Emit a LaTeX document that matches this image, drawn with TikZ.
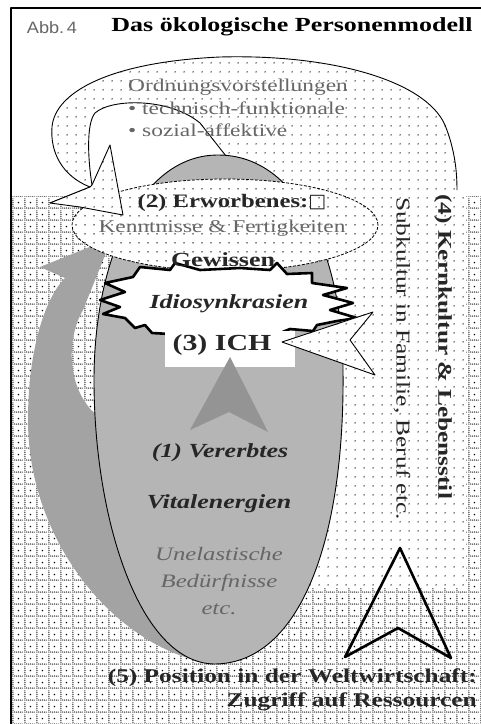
\documentclass[tikz,border=0pt]{standalone}
\usepackage{fontspec}
\setmainfont{Liberation Serif}[FakeStretch=1.3]
\newfontfamily\abbfont{Liberation Sans}[FakeStretch=1.1]
\newfontfamily\symfont{DejaVu Sans}
\usetikzlibrary{
    patterns,
    shapes.geometric,
    positioning,
}

% sparse dots of the (4) region
\pgfdeclarepatternformonly{sparseDots}{\pgfpointorigin}{\pgfpoint{9pt}{9pt}}{\pgfpoint{9pt}{9pt}}{
    \pgfpathcircle{\pgfpoint{4.5pt}{4.5pt}}{0.8pt}
    \pgfusepath{fill}
}
% dotted grid of the (5) region
\pgfdeclarepatternformonly{dotGrid}{\pgfpointorigin}{\pgfpoint{12pt}{12pt}}{\pgfpoint{12pt}{12pt}}{
    \pgfpathcircle{\pgfpoint{1pt}{1pt}}{0.7pt}
    \pgfpathcircle{\pgfpoint{3pt}{1pt}}{0.7pt}
    \pgfpathcircle{\pgfpoint{5pt}{1pt}}{0.7pt}
    \pgfpathcircle{\pgfpoint{7pt}{1pt}}{0.7pt}
    \pgfpathcircle{\pgfpoint{9pt}{1pt}}{0.7pt}
    \pgfpathcircle{\pgfpoint{11pt}{1pt}}{0.7pt}
    \pgfpathcircle{\pgfpoint{1pt}{3pt}}{0.7pt}
    \pgfpathcircle{\pgfpoint{1pt}{5pt}}{0.7pt}
    \pgfpathcircle{\pgfpoint{1pt}{7pt}}{0.7pt}
    \pgfpathcircle{\pgfpoint{1pt}{9pt}}{0.7pt}
    \pgfpathcircle{\pgfpoint{1pt}{11pt}}{0.7pt}
    \pgfpathcircle{\pgfpoint{7pt}{7pt}}{0.85pt}
    \pgfusepath{fill}
}

\begin{document}
\begin{tikzpicture}[x=1pt,y=-1pt,line join=round]

    \tikzstyle{dotRegion}=[fill=white, postaction={pattern=sparseDots}]
    \tikzstyle{gridRegion}=[fill=white, postaction={pattern=dotGrid}]
    \tikzstyle{thinEdge}=[draw=black, line width=0.9pt]
    \tikzstyle{heavyEdge}=[draw=black, line width=2.6pt]
    \tikzstyle{plainText}=[inner sep=0pt, text=black!85, font=\fontsize{18}{22}\selectfont]
    \tikzstyle{grayText}=[plainText, text=black!60]
    \tikzstyle{boldText}=[plainText, font=\bfseries\fontsize{20}{24}\selectfont]
    \tikzstyle{boldItalic}=[plainText, font=\bfseries\itshape\fontsize{20}{24}\selectfont]

    \useasboundingbox (0,0) rectangle (481,724);

    % Corner points
    \coordinate (loopJoin)  at (90,187);
    \coordinate (innerJoin) at (92,185);
    \coordinate (loopEnd)   at (457,190);
    \coordinate (starTop)   at (110,145);
    \coordinate (starLow)   at (123,215);
    \coordinate (starLeft)  at (50,203);
    \coordinate (dome)      at (226,156);
    \coordinate (eggTop)    at (218,155);
    \coordinate (eggBottom) at (215,664);

    % (5) Weltwirtschaft grid
    \fill[gridRegion] (12,196) rectangle (481,724);

    % (4) Kernkultur with loop
    \fill[dotRegion] (loopJoin) .. controls (62,176) and (50,152) .. (52,127)
        .. controls (55,92) and (110,62) .. (220,57)
        .. controls (330,54) and (425,80) .. (445,125)
        .. controls (455,150) and (457,172) .. (loopEnd)
        -- (466,190) -- (466,588) -- (250,588) -- (240,300) -- (dome)
        -- (200,123) .. controls (170,98) and (112,98) .. (95,113)
        .. controls (86,124) and (88,160) .. (innerJoin)
        -- (starTop) -- (starLow) -- (80,207) -- (starLeft) -- cycle;
    \draw[thinEdge] (starLeft) -- (loopJoin) .. controls (62,176) and (50,152) .. (52,127)
        .. controls (55,92) and (110,62) .. (220,57)
        .. controls (330,54) and (425,80) .. (445,125)
        .. controls (455,150) and (457,172) .. (loopEnd);
    \draw[thinEdge] (dome) -- (200,123) .. controls (170,98) and (112,98) .. (95,113)
        .. controls (86,124) and (88,160) .. (innerJoin);

    % Grey arrow round the left
    \fill[black!36] (eggBottom) .. controls (120,652) and (28,545) .. (28,420)
        .. controls (28,350) and (45,298) .. (65,278) -- (40,267) -- (112,238) -- (83,310)
        .. controls (68,335) and (64,385) .. (96,415) -- (160,560) -- cycle;

    % (1) Vererbtes
    \filldraw[fill=black!29, thinEdge] (eggTop) .. controls (300,155) and (343,260) .. (343,370)
        .. controls (345,540) and (300,663) .. (eggBottom)
        .. controls (140,664) and (94,520) .. (94,380)
        .. controls (94,260) and (140,155) .. (eggTop) -- cycle;

    % (2) Erworbenes
    \node at (225,225) [ellipse, minimum width=306pt, minimum height=92pt, inner sep=0pt,
        dotRegion, draw=black, line width=0.8pt, dash pattern=on 3pt off 1.5pt] (erworbenes) {};

    % arrowhead of the loop
    \filldraw[dotRegion, thinEdge] (innerJoin) -- (starTop) -- (starLow) -- (80,207) -- (starLeft) -- (loopJoin) -- cycle;

    % Idiosynkrasien
    \filldraw[fill=white, heavyEdge] (133,277) -- (140,267) -- (170,270) -- (175,263) -- (200,270)
        -- (240,268) -- (270,270) -- (277,263) -- (287,274) -- (312,273) -- (312,283) -- (347,288)
        -- (323,295) -- (353,303) -- (330,310) -- (357,318) -- (337,321) -- (317,325) -- (313,331)
        -- (290,329) -- (280,333) -- (255,336) -- (205,335) -- (170,334) -- (152,333) -- (145,325)
        -- (135,328) -- (125,318) -- (103,314) -- (120,307) -- (100,300) -- (125,292) -- (105,283) -- cycle;

    % (3) ICH
    \node at (230,349) [fill=white, minimum width=130pt, minimum height=36pt, inner sep=0pt] (ichBox) {};
    \fill[black!42] (230,357) -- (268,432) -- (229,412) -- (190,430) -- cycle;

    % arrow from (4) into the ICH
    \filldraw[dotRegion, thinEdge] (282,342) -- (373,312) -- (350,340) -- (375,375) -- cycle;

    % arrow from (5)
    \draw[heavyEdge] (400,548) -- (451,658) -- (398,628) -- (345,657) -- cycle;

    % Texts
    \node at (52,28) [grayText, font=\abbfont\fontsize{16.5}{18}\selectfont] (abb) {Abb.\,4};
    \node at (292,27) [boldText, text=black] (title) {Das ökologische Personenmodell};
    \node at (128,79) [grayText, anchor=north west, align=left, font=\fontsize{18}{22.5}\selectfont] (ordnung)
        {Ordnungsvorstellungen\\ \textbullet\ technisch-funktionale\\ \textbullet\ sozial-affektive};
    \node at (232,203) [boldText, font=\bfseries\fontsize{19}{22}\selectfont] (erwTitle) {(2) Erworbenes:{\symfont\mdseries □}};
    \node at (222,228) [grayText] (kenntnis) {Kenntnisse \& Fertigkeiten};
    \node at (223,260) [boldText] (gewissen) {Gewissen};
    \node at (229,304) [boldItalic] (idio) {Idiosynkrasien};
    \node at (222,345) [boldText, font=\bfseries\fontsize{23}{26}\selectfont] (ich) {(3) ICH};
    \node at (220,453) [boldItalic] (vererbt) {(1) Vererbtes};
    \node at (219,504) [boldItalic] (vital) {Vitalenergien};
    \node at (219,581) [grayText, align=center, font=\itshape\fontsize{19}{27}\selectfont] (bedarf)
        {Unelastische\\ Bedürfnisse\\ etc.};
    \node at (443,194) [boldText, rotate=-90, anchor=west, font=\bfseries\fontsize{19.5}{22}\selectfont] (kern)
        {(4) Kernkultur \& Lebensstil};
    \node at (402,197) [plainText, rotate=-90, anchor=west, font=\fontsize{19.5}{22}\selectfont] (sub)
        {Subkultur in Familie, Beruf etc.};
    \node at (477,690) [boldText, anchor=east, align=right, font=\bfseries\fontsize{19.5}{24}\selectfont] (position)
        {(5) Position in der Weltwirtschaft:\\ Zugriff auf Ressourcen};

    % Frame
    \draw[line width=1.5pt] (11,724) -- (11,8) -- (481,8);

\end{tikzpicture}
\end{document}
